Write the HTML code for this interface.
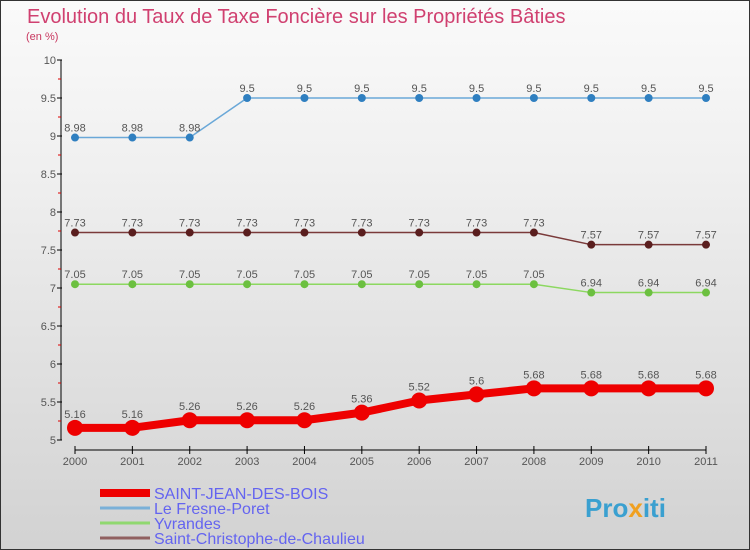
<!DOCTYPE html>
<html><head><meta charset="utf-8"><style>
body{margin:0}
#c{width:750px;height:550px;position:relative;box-sizing:border-box;border:1px solid #333;background:linear-gradient(#fafafa,#f0f0f0 30%,#d2d2d2);font-family:"Liberation Sans",sans-serif;overflow:hidden}
</style></head><body>
<div id="c">
<svg id="s" width="750" height="550" style="position:absolute;left:-1px;top:-1px" font-family="Liberation Sans, sans-serif">
<text x="27" y="23" font-size="20" fill="#d04070">Evolution du Taux de Taxe Foncière sur les Propriétés Bâties</text>
<text x="26" y="40" font-size="11" fill="#c8375f">(en %)</text>
<text x="585" y="517" font-size="26" font-weight="bold" fill="#3aa0d0">Pro<tspan fill="#f0a020">x</tspan>iti</text>
</svg>
</div>
<script>
const years=["2000","2001","2002","2003","2004","2005","2006","2007","2008","2009","2010","2011"];
const yTicks=[5,5.5,6,6.5,7,7.5,8,8.5,9,9.5,10];
const sjdb=[5.16,5.16,5.26,5.26,5.26,5.36,5.52,5.6,5.68,5.68,5.68,5.68];
const fresne=[8.98,8.98,8.98,9.5,9.5,9.5,9.5,9.5,9.5,9.5,9.5,9.5];
const yvrandes=[7.05,7.05,7.05,7.05,7.05,7.05,7.05,7.05,7.05,6.94,6.94,6.94];
const stchris=[7.73,7.73,7.73,7.73,7.73,7.73,7.73,7.73,7.73,7.57,7.57,7.57];
const names=["SAINT-JEAN-DES-BOIS","Le Fresne-Poret","Yvrandes","Saint-Christophe-de-Chaulieu"];
const NS="http://www.w3.org/2000/svg",s=document.getElementById('s');
const X=i=>75+i*(706-75)/(years.length-1);
const Y=v=>440-(v-5)*76;
function mk(t,a,p){const e=document.createElementNS(NS,t);for(const k in a)e.setAttribute(k,a[k]);(p||s).appendChild(e);return e;}
let ax=mk('line',{x1:61,y1:60,x2:61,y2:440,stroke:'#000'});


yTicks.forEach(v=>{mk('line',{x1:57,y1:Y(v),x2:62,y2:Y(v),stroke:'#000'});
 if(v<10)mk('line',{x1:58,y1:Y(v+0.25),x2:61,y2:Y(v+0.25),stroke:'#d00'});
 const t=mk('text',{x:56,y:Y(v)+4,'font-size':11,'text-anchor':'end',fill:'#555'});t.textContent=String(v);
 
 });
let xa=mk('line',{x1:75,y1:450,x2:706,y2:450,stroke:'#000'});


years.forEach((y,i)=>{mk('line',{x1:X(i),y1:446,x2:X(i),y2:454,stroke:'#000'});
 const t=mk('text',{x:X(i),y:465,'font-size':11,'text-anchor':'middle',fill:'#555'});t.textContent=y;
 
 });
function series(d,col,w,r,dot,nm){
 const p=mk('polyline',{points:d.map((v,i)=>X(i)+','+Y(v)).join(' '),fill:'none',stroke:col,'stroke-width':w,'stroke-linejoin':'round'});
 
 
 d.forEach((v,i)=>{const c=mk('circle',{cx:X(i),cy:Y(v),r:r,fill:dot});
  
  
  const t=mk('text',{x:X(i),y:Y(v)-(w>3?10:6),'font-size':11,'text-anchor':'middle',fill:'#555'});t.textContent=String(v);
  
  });
}
series(fresne,'#6aa8d8',1.5,4,'#2f7fc0','fresne-poret');
series(stchris,'#7a3a3a',1.5,4,'#5a1e1e','saint-christophe');
series(yvrandes,'#8cd860',1.5,4,'#6cc040','yvrandes');
series(sjdb,'#e00',8,8,'#e00','saint-jean-des-bois');
const lc=['#e00','#7ab0d8','#90d870','#906060'],lw=[8,3,3,3];
names.forEach((n,i)=>{const y=493+i*15;
 const l=mk('line',{x1:100,y1:y,x2:150,y2:y,stroke:lc[i],'stroke-width':lw[i]});
 
 
 const t=mk('text',{x:154,y:y+6,'font-size':16,fill:'#6464f0'});t.textContent=n;
 
 });
</script>
</body></html>
